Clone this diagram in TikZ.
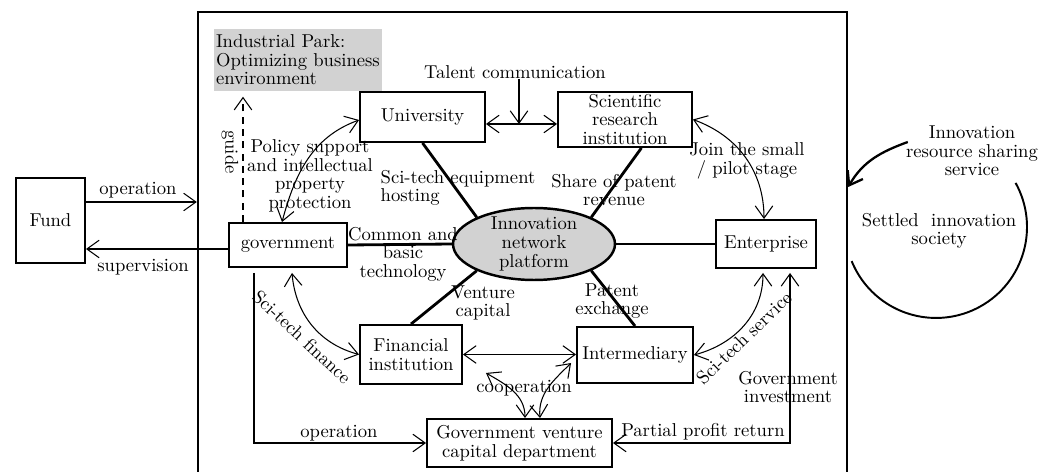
\documentclass[tikz,border=0pt]{standalone}
\usepackage{fontspec}
\usetikzlibrary{arrows.meta,calc,shapes.geometric}
\begin{document}
\begin{tikzpicture}
[x=0.02cm,y=-0.02cm,
>={Straight Barb[length=7pt,width=10pt]},
box/.style={draw,line width=1.1pt,inner sep=1pt,align=center},
link/.style={line width=1.6pt},
flow/.style={line width=0.6pt},
lbl/.style={inner sep=0pt,align=center}]
\fontsize{10.6}{10.6}\selectfont
\useasboundingbox (0,0) rectangle (1054,472);
\node[draw,line width=1.4pt,minimum width=12.98cm,minimum height=9.36cm] (zone) at (522.5,246) {};
\node[fill=gray!35,text width=3.28cm,inner xsep=0.04cm,minimum height=1.12cm,align=left] (park) at (298,60) {Industrial Park:\\Optimizing business\\environment};

\node[box,minimum width=1.38cm,minimum height=1.7cm] (fund) at (50.5,220.5) {Fund};
\node[box,minimum width=2.36cm,minimum height=0.88cm] (gov) at (288,245) {government};
\node[box,minimum width=2.5cm,minimum height=1cm] (uni) at (422.5,117) {University};
\node[box,minimum width=2.68cm,minimum height=1.1cm] (sri) at (625,119.5) {Scientific\\research\\institution};
\node[box,minimum width=2cm,minimum height=0.96cm] (ent) at (766,244) {Enterprise};
\node[box,minimum width=2.04cm,minimum height=1.18cm] (fin) at (411,354.5) {Financial\\institution};
\node[box,minimum width=2.32cm,minimum height=1.12cm] (int) at (635,355) {Intermediary};
\node[box,minimum width=3.7cm,minimum height=0.96cm] (gvcd) at (519.5,443) {Government venture\\capital department};
\node[ellipse,draw,fill=gray!35,line width=1.4pt,inner sep=0pt,minimum width=3.24cm,minimum height=1.44cm] (plat) at (534,244) {};
\node[lbl] (platlbl) at (plat) {Innovation\\network\\platform};

\node[lbl] (talent) at (515,72) {Talent communication};
\node[lbl] (lpolicy) at (310,176) {Policy support\\and intellectual\\property\\protection};
\node[lbl,align=left] (lhost) at (458,188) {Sci-tech equipment\\hosting};
\node[lbl] (lshare) at (614,190) {Share of patent\\revenue};
\node[lbl] (lcommon) at (403,254) {Common and\\basic\\technology};
\node[lbl] (lventure) at (483,303) {Venture\\capital};
\node[lbl] (lpatent) at (612,301) {Patent\\exchange};
\node[lbl] (ljoin) at (747,161) {Join the small\\/ pilot stage};
\node[lbl] (sharing) at (972,151) {Innovation\\resource sharing\\service};
\node[lbl] (settled) at (939,231) {Settled\ \ innovation\\society};
\node[lbl] (lop) at (138,190) {operation};
\node[lbl] (lsup) at (143,267) {supervision};
\node[lbl,rotate=-90] (lguide) at (230,152) {guide};
\node[lbl,rotate=-43] (lfinance) at (302,337) {Sci-tech finance};
\node[lbl] (lop2) at (339,433) {operation};
\node[lbl] (lcoop) at (524,388) {cooperation};
\node[lbl,rotate=44] (lservice) at (744,338) {Sci-tech service};
\node[lbl] (lprofit) at (703,432) {Partial profit return};
\node[lbl] (linvest) at (788,387) {Government\\investment};

\draw[link] (uni.south) -- (plat.155);
\draw[link] (sri.-60) -- (plat.25);
\draw[link] (gov.east) -- (plat.west);
\draw[link] (plat.east) -- (ent.west);
\draw[link] (plat.205) -- (fin.north);
\draw[link] (plat.-25) -- (int.north);

\draw[flow,->] ($(fund.east)+(0,-18.5)$) coordinate (opa) -- (opa -| zone.west);
\draw[flow,->] ($(gov.west)+(0,4)$) coordinate (supa) -- (supa -| fund.east);
\draw[flow,<->] ($(uni.east)+(0,7)$) coordinate (tca) -- (tca -| sri.west);
\draw[flow,->] ($(talent.south)+(4,0)$) coordinate (tcb) -- (tcb |- tca);
\draw[flow,<->] ($(gov.north)+(-6,0)$) to[out=75,in=200] ($(uni.west)+(0,3)$);
\draw[flow,->,dash pattern=on 4pt off 3pt] ($(gov.north)+(-45,0)$) coordinate (ga) -- ($(ga |- park.south)+(0,5)$);
\draw[flow,<->] (sri.east) to[out=-20,in=90] ($(ent.north)+(-2,0)$);
\draw[line width=1.3pt,->] ($(sharing.west)+(2,-9)$) to[out=200,in=60] (zone.east |- 0,187);
\coordinate (ring) at (936,227);
\draw[line width=1.1pt] ([shift={(29:1.82cm)}]ring) arc[start angle=29,end angle=-158,radius=1.82cm];
\draw[flow,<->] ($(gov.south)+(4,5)$) to[out=-85,in=165] (fin.west);
\draw[flow,->] ($(gov.south)+(-34,5)$) |- (gvcd.west);
\draw[flow,<->] (fin.east) -- (fin.east -| int.west);
\draw[flow,<->] ($(fin.south east)+(23,-12)$) to[out=-30,in=90] ($(gvcd.north)+(5.5,0)$);
\draw[flow,<->] ($(gvcd.north)+(20.5,0)$) to[out=95,in=225] ($(int.west)+(-5,8)$);
\draw[flow,<->] (int.east) to[out=15,in=-90] ($(ent.south)+(-3,4)$);
\draw[flow,<->] ($(ent.south)+(24,4)$) |- (gvcd.east);
\end{tikzpicture}
\end{document}
